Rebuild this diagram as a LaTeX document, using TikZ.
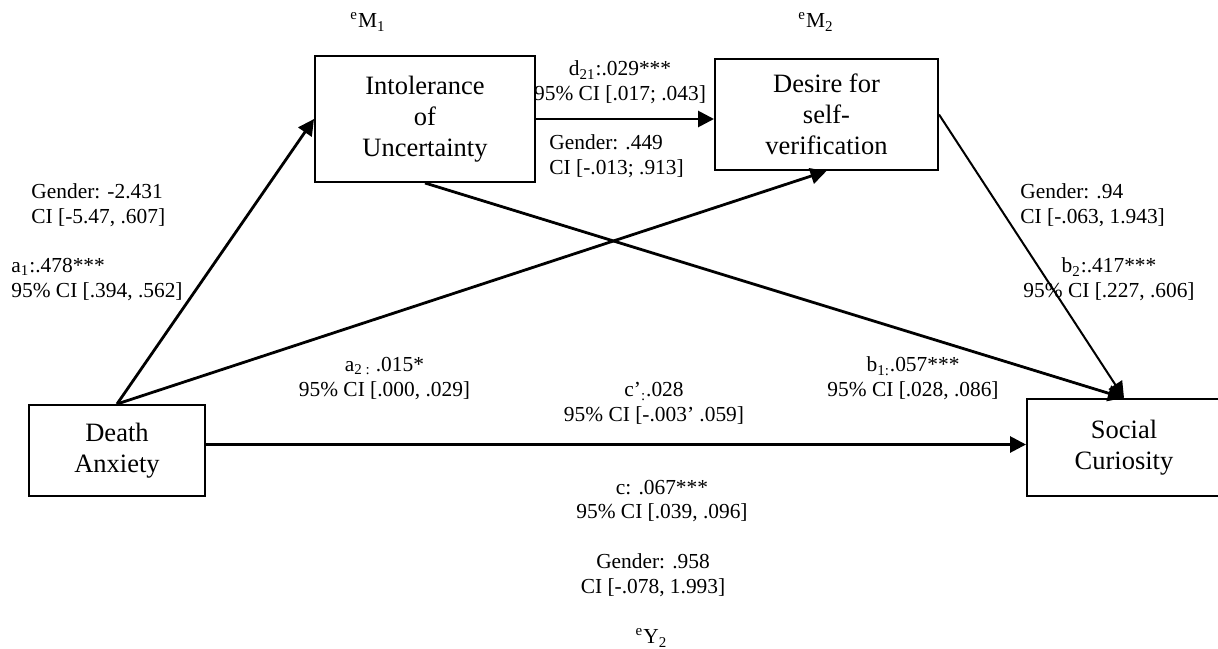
\documentclass[tikz,border=0pt]{standalone}
\usepackage{fontspec}
\setmainfont{Liberation Serif}
\usepackage{tikz}
\usetikzlibrary{arrows.meta}
\newcommand{\boxfont}{\fontsize{13.25}{15.5}\selectfont}
\newcommand{\lblfont}{\fontsize{10.7}{12.3}\selectfont}
\tikzset{
  varbox/.style={draw, line width=1pt, align=center, font=\boxfont, inner sep=0pt},
  lbl/.style={align=center, font=\lblfont, inner sep=0pt},
  lblleft/.style={lbl, align=left, anchor=west},
  effect/.style={line width=1.4pt, ->},
}
\begin{document}
\begin{tikzpicture}[line cap=butt,line join=miter,>={Triangle[length=8pt,width=8pt]},x=0.5pt,y=-0.5pt]
\useasboundingbox (0,0) rectangle (1218,648);
% variables
\node[varbox, minimum width=110pt, minimum height=63pt] (intol) at (425,119) {Intolerance\\of\\Uncertainty};
\node[varbox, minimum width=111.5pt, minimum height=55.5pt] (desire) at (826.5,114.5) {Desire for\\self-\\verification};
\node[varbox, minimum width=88pt, minimum height=45.5pt] (death) at (117,450.5) {Death\\Anxiety};
\node[varbox, minimum width=97pt, minimum height=48.5pt] (social) at (1124,447.5) {Social\\Curiosity};
% error terms
\node[lbl] (em1) at (368,22) {\textsuperscript{e}M\textsubscript{1}};
\node[lbl] (em2) at (816,22) {\textsuperscript{e}M\textsubscript{2}};
\node[lbl] (ey2) at (651.5,638) {\textsuperscript{e}Y\textsubscript{2}};
% paths
\draw[effect] (death.north) -- (intol.west);
\draw[effect] (death.north) -- (desire.south);
\draw[effect] (intol.east) -- (intol.east -| desire.west);
\draw[effect] (intol.south) -- (social.north);
\draw[line width=1pt, ->] (desire.east) -- (social.north);
\draw[effect] ([yshift=3pt]death.east) -- ([yshift=3pt]death.east -| social.west);
% coefficients
\node[lblleft] (gena1) at (31,205.5) {Gender: -2.431\\CI [-5.47, .607]};
\node[lblleft] (coefa1) at (11,279.5) {a\textsubscript{1}:.478***\\95\% CI [.394, .562]};
\node[lbl] (coefd21) at (620,82.5) {d\textsubscript{21}:.029***\\95\% CI [.017; .043]};
\node[lblleft] (gend21) at (549,156) {Gender: .449\\CI [-.013; .913]};
\node[lblleft] (genb2) at (1020,205.5) {Gender: .94\\CI [-.063, 1.943]};
\node[lbl] (coefb2) at (1109,279.5) {b\textsubscript{2}:.417***\\95\% CI [.227, .606]};
\node[lbl] (coefa2) at (384.5,378.5) {a\textsubscript{2 : }.015*\\95\% CI [.000, .029]};
\node[lbl] (coefb1) at (913,378.5) {b\textsubscript{1:}.057***\\95\% CI [.028, .086]};
\node[lbl] (coefcp) at (654,403.5) {c’\textsubscript{:}.028\\95\% CI [-.003’ .059]};
\node[lbl] (coefc) at (662,501) {c: .067***\\95\% CI [.039, .096]};
\node[lbl] (genc) at (653,575.5) {Gender: .958\\CI [-.078, 1.993]};
\end{tikzpicture}
\end{document}
